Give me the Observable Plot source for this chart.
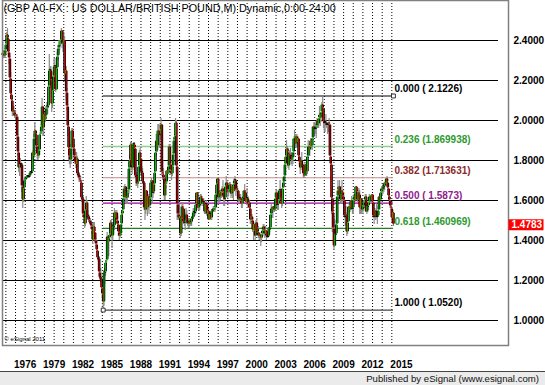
<!DOCTYPE html>
<html><head><meta charset="utf-8">
<script src="https://cdn.jsdelivr.net/npm/d3@7"></script>
<script src="https://cdn.jsdelivr.net/npm/@observablehq/plot@0.6"></script>
<style>
body{margin:0;background:#fff;font-family:"Liberation Sans",Arial,sans-serif;}
#wrap{width:545px;height:385px;overflow:hidden;background:#fff}
#chart svg{display:block}
#footer{height:13px;border-top:1px solid #444;background:#ebebeb;font-size:9.6px;text-align:right;padding-right:6px;line-height:13px;color:#111}
</style></head><body>
<div id="wrap"><div id="chart"></div><div id="footer">Published by eSignal (www.esignal.com)</div></div>
<script>
// ---- data (monthly bars, Sep 1974 .. Mar 2015) ----
const startYear = 1974, startMonth = 8; // September 1974 (0-based month)
const firstOpen = 2.33;
const closes = [
 2.33,2.34,2.32,2.35,
 2.38,2.43,2.41,2.34,2.31,2.21,2.13,2.10,2.04,2.05,2.04,2.02,
 2.03,2.02,1.92,1.84,1.76,1.78,1.78,1.78,1.67,1.60,1.66,1.70,
 1.71,1.71,1.72,1.72,1.72,1.72,1.74,1.74,1.74,1.84,1.82,1.91,
 1.95,1.93,1.87,1.83,1.82,1.85,1.93,1.94,1.97,2.07,1.96,2.03,
 2.00,2.02,2.06,2.07,2.07,2.17,2.25,2.25,2.20,2.08,2.15,2.22,
 2.27,2.27,2.15,2.26,2.32,2.36,2.38,2.39,2.40,2.45,2.38,2.39,
 2.40,2.23,2.25,2.14,2.07,1.97,1.86,1.82,1.80,1.86,1.95,1.91,
 1.86,1.82,1.79,1.78,1.81,1.73,1.73,1.71,1.70,1.69,1.61,1.61,
 1.53,1.51,1.48,1.55,1.59,1.52,1.52,1.50,1.49,1.49,1.47,1.45,
 1.40,1.47,1.44,1.40,1.38,1.35,1.31,1.31,1.24,1.21,1.21,1.16,
 1.13,1.09,1.24,1.24,1.29,1.30,1.42,1.39,1.41,1.43,1.49,1.45,
 1.42,1.47,1.47,1.54,1.51,1.54,1.50,1.48,1.44,1.42,1.43,1.48,
 1.53,1.55,1.61,1.66,1.67,1.62,1.61,1.64,1.65,1.76,1.80,1.88,
 1.78,1.76,1.88,1.88,1.86,1.72,1.72,1.68,1.69,1.77,1.84,1.81,
 1.74,1.74,1.69,1.69,1.56,1.55,1.65,1.56,1.62,1.58,1.57,1.61,
 1.69,1.70,1.64,1.64,1.68,1.74,1.84,1.90,1.87,1.95,1.93,1.93,
 1.95,1.98,1.74,1.73,1.71,1.62,1.68,1.69,1.75,1.73,1.77,1.87,
 1.78,1.75,1.73,1.77,1.83,1.90,1.92,1.99,1.77,1.58,1.53,1.51,
 1.52,1.43,1.51,1.57,1.56,1.49,1.49,1.50,1.53,1.49,1.49,1.48,
 1.50,1.48,1.49,1.51,1.51,1.54,1.54,1.54,1.58,1.64,1.57,1.56,
 1.58,1.58,1.62,1.61,1.58,1.59,1.59,1.54,1.58,1.58,1.53,1.55,
 1.50,1.53,1.53,1.51,1.55,1.55,1.56,1.55,1.56,1.63,1.68,1.71,
 1.61,1.63,1.64,1.62,1.64,1.66,1.64,1.61,1.61,1.67,1.69,1.65,
 1.64,1.65,1.68,1.67,1.63,1.67,1.64,1.68,1.70,1.70,1.65,1.66,
 1.65,1.60,1.61,1.61,1.60,1.58,1.61,1.61,1.65,1.64,1.59,1.61,
 1.61,1.58,1.59,1.56,1.50,1.52,1.50,1.45,1.48,1.45,1.42,1.49,
 1.46,1.44,1.42,1.43,1.42,1.41,1.43,1.45,1.47,1.45,1.43,1.45,
 1.42,1.42,1.42,1.46,1.46,1.53,1.56,1.55,1.57,1.56,1.55,1.61,
 1.64,1.58,1.58,1.60,1.65,1.65,1.61,1.58,1.66,1.69,1.72,1.78,
 1.82,1.86,1.84,1.77,1.83,1.82,1.82,1.80,1.81,1.84,1.91,1.92,
 1.88,1.92,1.89,1.91,1.82,1.79,1.76,1.80,1.77,1.77,1.73,1.72,
 1.78,1.75,1.74,1.82,1.87,1.85,1.87,1.90,1.87,1.91,1.97,1.96,
 1.96,1.96,1.97,2.00,1.98,2.01,2.03,2.01,2.04,2.08,2.06,1.99,
 1.99,1.99,1.98,1.98,1.98,1.99,1.98,1.82,1.78,1.61,1.54,1.46,
 1.37,1.43,1.43,1.48,1.62,1.65,1.67,1.63,1.60,1.65,1.64,1.62,
 1.60,1.52,1.52,1.53,1.44,1.49,1.57,1.55,1.57,1.60,1.56,1.56,
 1.60,1.62,1.60,1.67,1.64,1.60,1.64,1.63,1.56,1.61,1.57,1.55,
 1.57,1.59,1.60,1.62,1.54,1.57,1.57,1.59,1.62,1.61,1.60,1.63,
 1.59,1.52,1.52,1.55,1.52,1.52,1.52,1.55,1.62,1.60,1.64,1.66,
 1.65,1.67,1.67,1.69,1.68,1.71,1.69,1.66,1.62,1.60,1.57,1.56,
 1.51,1.54,1.4783
];
const highs = [
 2.40,2.35,2.35,2.36,
 2.39,2.44,2.46,2.42,2.35,2.32,2.24,2.15,2.11,2.07,2.07,2.05,
 2.05,2.03,2.03,1.93,1.85,1.80,1.81,1.79,1.78,1.70,1.70,1.71,
 1.72,1.72,1.72,1.72,1.72,1.72,1.74,1.74,1.75,1.84,1.85,1.93,
 1.99,1.95,1.94,1.88,1.84,1.85,1.93,1.95,1.98,2.11,2.07,2.04,
 2.04,2.04,2.07,2.09,2.09,2.19,2.33,2.27,2.27,2.21,2.16,2.24,
 2.31,2.31,2.27,2.27,2.34,2.37,2.40,2.40,2.41,2.46,2.45,2.39,
 2.44,2.42,2.27,2.27,2.16,2.08,1.98,1.90,1.86,1.88,1.96,1.96,
 1.92,1.88,1.84,1.81,1.84,1.82,1.75,1.74,1.72,1.72,1.70,1.64,
 1.62,1.54,1.53,1.57,1.62,1.60,1.55,1.53,1.52,1.51,1.50,1.48,
 1.46,1.49,1.49,1.44,1.41,1.40,1.35,1.34,1.32,1.25,1.26,1.21,
 1.16,1.14,1.25,1.26,1.30,1.31,1.44,1.42,1.42,1.44,1.50,1.50,
 1.45,1.48,1.50,1.56,1.55,1.54,1.55,1.52,1.49,1.45,1.45,1.48,
 1.54,1.56,1.61,1.67,1.68,1.67,1.64,1.65,1.66,1.79,1.83,1.89,
 1.89,1.79,1.88,1.89,1.89,1.86,1.74,1.73,1.70,1.77,1.85,1.86,
 1.81,1.77,1.76,1.72,1.69,1.57,1.65,1.65,1.62,1.63,1.59,1.62,
 1.70,1.71,1.70,1.65,1.70,1.75,1.84,1.93,1.90,1.98,1.98,1.94,
 1.98,2.01,1.98,1.80,1.76,1.72,1.70,1.71,1.75,1.76,1.79,1.88,
 1.88,1.80,1.77,1.78,1.84,1.91,1.93,2.01,2.00,1.80,1.60,1.58,
 1.58,1.52,1.52,1.59,1.59,1.56,1.53,1.54,1.56,1.55,1.51,1.51,
 1.51,1.51,1.50,1.52,1.52,1.56,1.56,1.55,1.58,1.64,1.64,1.58,
 1.60,1.59,1.63,1.63,1.62,1.61,1.61,1.60,1.59,1.60,1.58,1.55,
 1.56,1.54,1.54,1.53,1.55,1.56,1.57,1.56,1.57,1.64,1.70,1.71,
 1.71,1.64,1.65,1.65,1.65,1.67,1.70,1.64,1.63,1.68,1.72,1.70,
 1.66,1.66,1.69,1.69,1.68,1.68,1.67,1.68,1.71,1.72,1.70,1.69,
 1.67,1.65,1.63,1.63,1.63,1.61,1.61,1.62,1.65,1.68,1.65,1.63,
 1.66,1.62,1.60,1.60,1.57,1.52,1.53,1.51,1.48,1.48,1.45,1.50,
 1.51,1.48,1.47,1.44,1.44,1.43,1.43,1.46,1.48,1.48,1.46,1.47,
 1.45,1.44,1.44,1.46,1.47,1.53,1.58,1.56,1.57,1.57,1.58,1.61,
 1.65,1.65,1.60,1.60,1.65,1.70,1.66,1.62,1.67,1.71,1.72,1.79,
 1.85,1.90,1.87,1.86,1.83,1.85,1.86,1.84,1.81,1.84,1.91,1.95,
 1.93,1.93,1.93,1.92,1.91,1.84,1.79,1.81,1.84,1.79,1.78,1.75,
 1.79,1.78,1.77,1.83,1.90,1.88,1.87,1.91,1.91,1.91,1.97,1.99,
 1.99,1.98,1.97,2.01,2.00,2.01,2.07,2.04,2.04,2.09,2.12,2.06,
 2.00,1.99,2.03,1.99,1.98,1.99,2.01,1.98,1.86,1.80,1.67,1.55,
 1.51,1.50,1.48,1.50,1.62,1.70,1.67,1.70,1.67,1.67,1.70,1.65,
 1.64,1.61,1.53,1.57,1.54,1.50,1.57,1.59,1.59,1.60,1.62,1.58,
 1.61,1.63,1.63,1.67,1.67,1.65,1.65,1.66,1.65,1.61,1.60,1.58,
 1.58,1.60,1.60,1.63,1.63,1.57,1.57,1.59,1.63,1.62,1.61,1.63,
 1.63,1.59,1.53,1.56,1.55,1.58,1.53,1.57,1.62,1.63,1.64,1.66,
 1.67,1.68,1.68,1.69,1.70,1.71,1.72,1.69,1.66,1.63,1.60,1.59,
 1.55,1.55,1.54
];
const lows = [
 2.31,2.31,2.31,2.31,
 2.34,2.37,2.39,2.33,2.28,2.20,2.11,2.08,2.02,2.02,2.02,2.01,
 2.00,2.00,1.90,1.82,1.74,1.72,1.76,1.76,1.64,1.56,1.59,1.65,
 1.70,1.70,1.71,1.71,1.71,1.71,1.72,1.73,1.73,1.74,1.79,1.81,
 1.91,1.91,1.86,1.80,1.80,1.81,1.84,1.92,1.93,1.96,1.92,1.92,
 1.97,1.99,2.01,2.04,2.03,2.06,2.16,2.21,2.16,2.04,2.06,2.14,
 2.22,2.22,2.14,2.15,2.25,2.30,2.33,2.35,2.37,2.38,2.36,2.34,
 2.35,2.20,2.20,2.10,2.05,1.92,1.80,1.78,1.76,1.78,1.85,1.88,
 1.85,1.81,1.78,1.76,1.76,1.72,1.71,1.69,1.69,1.68,1.59,1.59,
 1.52,1.50,1.46,1.47,1.54,1.51,1.50,1.49,1.48,1.48,1.46,1.43,
 1.38,1.40,1.43,1.39,1.37,1.34,1.30,1.29,1.22,1.20,1.19,1.15,
 1.11,1.052,1.07,1.18,1.22,1.27,1.30,1.36,1.32,1.40,1.42,1.42,
 1.36,1.40,1.43,1.45,1.48,1.50,1.48,1.47,1.42,1.40,1.41,1.42,
 1.47,1.51,1.55,1.60,1.63,1.59,1.58,1.58,1.61,1.63,1.71,1.78,
 1.75,1.73,1.75,1.85,1.83,1.71,1.67,1.67,1.66,1.68,1.73,1.80,
 1.72,1.72,1.68,1.68,1.55,1.50,1.53,1.55,1.52,1.55,1.53,1.56,
 1.60,1.67,1.58,1.61,1.63,1.67,1.74,1.82,1.84,1.85,1.92,1.86,
 1.90,1.93,1.72,1.70,1.70,1.60,1.60,1.66,1.68,1.70,1.73,1.76,
 1.77,1.73,1.70,1.72,1.76,1.82,1.88,1.90,1.74,1.50,1.50,1.50,
 1.51,1.41,1.42,1.51,1.53,1.48,1.47,1.45,1.50,1.48,1.47,1.46,
 1.46,1.47,1.47,1.47,1.49,1.51,1.52,1.52,1.53,1.57,1.56,1.55,
 1.55,1.55,1.57,1.60,1.57,1.58,1.58,1.53,1.53,1.57,1.52,1.52,
 1.50,1.50,1.52,1.50,1.50,1.52,1.54,1.54,1.54,1.56,1.62,1.64,
 1.59,1.59,1.59,1.60,1.61,1.62,1.64,1.57,1.57,1.60,1.66,1.64,
 1.61,1.62,1.64,1.66,1.61,1.62,1.61,1.60,1.67,1.68,1.62,1.64,
 1.61,1.59,1.60,1.59,1.59,1.56,1.56,1.58,1.60,1.63,1.59,1.59,
 1.60,1.56,1.56,1.55,1.48,1.49,1.49,1.44,1.40,1.42,1.40,1.42,
 1.44,1.43,1.41,1.40,1.40,1.37,1.39,1.41,1.43,1.42,1.41,1.42,
 1.40,1.41,1.41,1.42,1.44,1.45,1.52,1.51,1.51,1.54,1.54,1.55,
 1.60,1.57,1.55,1.55,1.58,1.63,1.60,1.56,1.57,1.66,1.67,1.71,
 1.78,1.81,1.78,1.76,1.75,1.80,1.81,1.78,1.77,1.78,1.82,1.90,
 1.86,1.86,1.87,1.87,1.81,1.78,1.73,1.75,1.76,1.74,1.71,1.71,
 1.72,1.73,1.72,1.73,1.81,1.82,1.82,1.85,1.86,1.85,1.90,1.94,
 1.92,1.93,1.91,1.96,1.96,1.96,2.00,1.97,1.99,2.03,2.04,1.96,
 1.94,1.94,1.97,1.96,1.93,1.94,1.97,1.82,1.75,1.53,1.44,1.44,
 1.35,1.40,1.37,1.43,1.48,1.60,1.60,1.62,1.58,1.58,1.63,1.59,
 1.59,1.51,1.47,1.52,1.42,1.43,1.49,1.55,1.54,1.57,1.55,1.53,
 1.53,1.59,1.59,1.60,1.61,1.59,1.60,1.61,1.53,1.53,1.53,1.54,
 1.53,1.56,1.56,1.58,1.54,1.53,1.54,1.55,1.58,1.59,1.58,1.59,
 1.56,1.51,1.48,1.51,1.50,1.51,1.48,1.52,1.55,1.59,1.60,1.63,
 1.62,1.63,1.64,1.65,1.67,1.67,1.69,1.65,1.60,1.58,1.56,1.55,
 1.49,1.50,1.47
];
const yTicks = [1.0, 1.2, 1.4, 1.6, 1.8, 2.0, 2.2, 2.4];
const xTickYears = [1976, 1979, 1982, 1985, 1988, 1991, 1994, 1997, 2000, 2003, 2006, 2009, 2012, 2015];
const gridYears = d3.range(1975, 2016);
const fibRatios = ["0.000", "0.236", "0.382", "0.500", "0.618", "1.000"];
const fibPrices = [2.1226, 1.869938, 1.713631, 1.5873, 1.460969, 1.0520];
const fibPriceText = [" 2.1226", "1.869938", "1.713631", " 1.5873", "1.460969", " 1.0520"];
const fibLineColors = ["#000000", "#8fd08f", "#c48a8a", "#990099", "#1f7f1f", "#444444"];
const fibTextColors = ["#000000", "#2e9a2e", "#8b2a2a", "#8e1a8e", "#2e9a2e", "#000000"];
const lastPriceText = "1.4783";
const titleText = "(GBP A0-FX : US DOLLAR/BRITISH POUND,M) Dynamic,0:00-24:00";
const copyText = "\u00a9 eSignal 2011";

// ---- build bars ----
const bars = closes.map((c, i) => {
  const o = i === 0 ? firstOpen : closes[i - 1];
  const t = startYear + (startMonth + i) / 12;
  return {t, open: o, close: c,
    high: Math.max(highs[i], o, c), low: Math.min(lows[i], o, c),
    lo: Math.min(o, c), hi: Math.max(o, c), up: c >= o};
});
const lowBar = bars.reduce((a, b) => b.low < a.low ? b : a);
const lastBar = bars[bars.length - 1];
const fib = fibPrices.map((p, i) => ({p, x1: lowBar.t, x2: lastBar.t,
  label: `${fibRatios[i]} (${fibPriceText[i]})`, lc: fibLineColors[i], tc: fibTextColors[i]}));

const font = "'Liberation Sans', Arial, sans-serif";
const rectSymbol = {draw(ctx) { ctx.rect(-17.5, -5.5, 35, 11); }};

const chart = Plot.plot({
  width: 545, height: 371,
  marginLeft: 2, marginRight: 37, marginTop: 0, marginBottom: 26,
  x: {type: "linear", domain: [1974.65, 2027.09], axis: null},
  y: {domain: [0.875, 2.6], axis: null},
  style: {fontFamily: font, background: "white", overflow: "visible"},
  marks: [
    Plot.ruleX(gridYears, {stroke: "#000", strokeDasharray: "1,2", strokeWidth: 1}),
    Plot.ruleY(yTicks, {stroke: "#000", strokeWidth: 1.1, insetRight: 10}),
    Plot.ruleY(fib, {y: "p", x1: "x1", x2: "x2", stroke: d => d.lc, strokeWidth: d => d.p === fibPrices[1] ? 1.6 : 1.2}),
    Plot.ruleX(bars, {x: "t", y1: "low", y2: "high", stroke: "#8c8c8c", strokeWidth: 1.2}),
    Plot.ruleX(bars, {x: "t", y1: "lo", y2: "hi", stroke: "#000", strokeWidth: 2.6, insetTop: -0.8, insetBottom: -0.8}),
    Plot.ruleX(bars, {x: "t", y1: "lo", y2: "hi", stroke: d => d.up ? "#00cc00" : "#dd0000", strokeWidth: 1}),
    Plot.dot([fib[0], fib[5]], {x: d => d.p === fibPrices[0] ? d.x2 : d.x1, y: "p", symbol: "square", r: 2.2, stroke: "#333", fill: "white", strokeWidth: 1}),
    Plot.text(fib, {x: "x2", y: "p", text: "label", fill: d => d.tc, textAnchor: "start", dx: 1, dy: -7, fontSize: 10, fontWeight: "bold"}),
    Plot.axisY(yTicks, {anchor: "right", tickSize: 0, tickPadding: 5, tickFormat: d => d.toFixed(4), fontSize: 10, fontWeight: "bold", fill: "#000"}),
    Plot.axisX(xTickYears, {anchor: "bottom", tickSize: 0, tickPadding: 15, tickFormat: d => String(d), textAnchor: "start", dx: -1.5, fontSize: 10, fontWeight: "bold", fill: "#000"}),
    Plot.frame({stroke: "#808080", strokeWidth: 1.5}),
    Plot.text([titleText], {frameAnchor: "top-left", dx: 1, dy: 8, lineAnchor: "middle", textAnchor: "start", fontSize: 10.8, fill: "#000"}),
    Plot.text([copyText], {frameAnchor: "bottom-left", dx: 2, dy: -5, textAnchor: "start", fontSize: 6, fill: "#000"}),
    Plot.dot([lastBar], {y: "close", frameAnchor: "right", dx: 17.5, symbol: rectSymbol, fill: "#ff0000", stroke: "none"}),
    Plot.text([lastBar], {y: "close", text: () => lastPriceText, frameAnchor: "right", dx: 3, textAnchor: "start", fill: "white", fontSize: 10, fontWeight: "bold"})
  ]
});
document.getElementById("chart").appendChild(chart);
</script>
</body></html>
